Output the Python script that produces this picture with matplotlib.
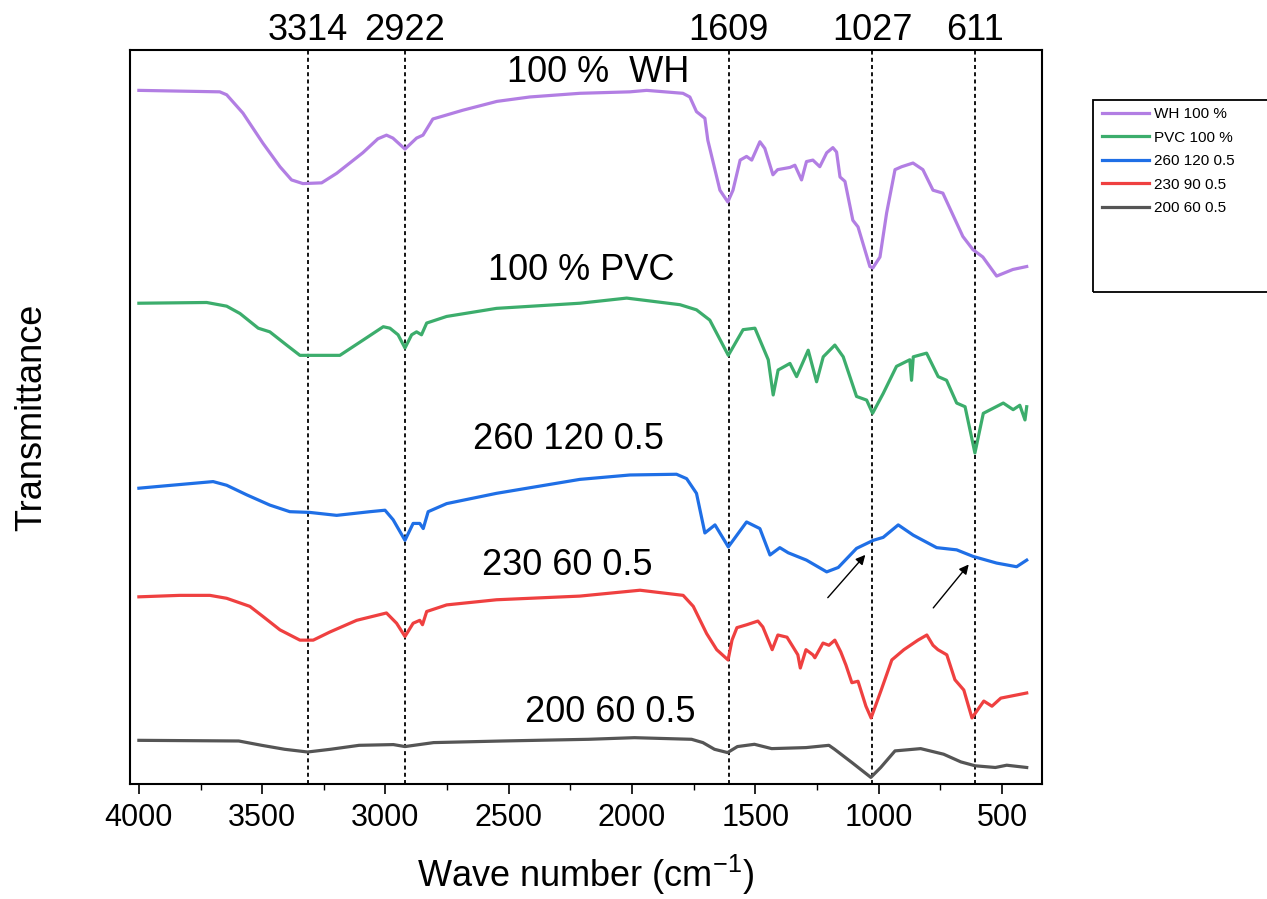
import matplotlib
matplotlib.use('Agg')
import matplotlib.pyplot as plt
from matplotlib.patches import Rectangle
from matplotlib.ticker import MultipleLocator

plt.rcParams['mathtext.fontset'] = 'custom'
plt.rcParams['mathtext.rm'] = 'Liberation Sans'
plt.rcParams['mathtext.it'] = 'Liberation Sans'

# FTIR spectra, transmittance in arbitrary units (curves stacked)
wh_x = [4000, 3672, 3644, 3578, 3497, 3428, 3381, 3335, 3259, 3198, 3092, 3031, 2996, 2970,
        2921, 2874, 2848, 2808, 2767, 2686, 2548, 2415, 2212, 2009, 1941, 1794, 1766, 1739,
        1705, 1693, 1644, 1612, 1591, 1562, 1536, 1515, 1482, 1462, 1429, 1410, 1360, 1340,
        1313, 1293, 1267, 1239, 1211, 1186, 1171, 1157, 1137, 1105, 1084, 1036, 1024, 995,
        968, 934, 907, 861, 821, 780, 740, 659, 618, 578, 522, 456, 400]
wh_y = [94.5, 94.3, 93.9, 91.4, 87.3, 84.1, 82.3, 81.8, 81.9, 83.2, 86.0, 87.9, 88.4, 88.0,
        86.5, 88.0, 88.4, 90.6, 91.0, 91.8, 93.0, 93.6, 94.1, 94.3, 94.5, 94.1, 93.6, 91.6,
        90.7, 87.7, 80.9, 79.3, 80.9, 85.0, 85.5, 85.0, 87.5, 86.6, 83.0, 83.7, 84.0, 84.3,
        82.3, 84.8, 85.0, 84.1, 86.0, 86.7, 86.1, 82.7, 82.1, 76.8, 75.9, 70.5, 70.3, 71.8,
        77.8, 83.7, 84.1, 84.6, 83.7, 80.9, 80.5, 74.6, 72.8, 71.8, 69.2, 70.1, 70.5]

pvc_x = [4000, 3725, 3644, 3590, 3516, 3469, 3401, 3347, 3307, 3185, 3090, 3009, 2982, 2949,
         2921, 2894, 2874, 2854, 2833, 2752, 2550, 2212, 2022, 1806, 1739, 1685, 1610, 1550,
         1502, 1448, 1428, 1408, 1360, 1333, 1286, 1252, 1225, 1178, 1144, 1090, 1049, 1025,
         982, 928, 874, 867, 860, 806, 759, 725, 684, 650, 610, 576, 495, 455, 428, 407, 400]
pvc_y = [65.5, 65.6, 65.1, 64.1, 62.1, 61.6, 59.8, 58.4, 58.4, 58.4, 60.5, 62.3, 62.1, 61.2,
         59.4, 61.2, 61.6, 61.2, 62.8, 63.7, 64.8, 65.5, 66.2, 65.3, 64.6, 63.2, 58.4, 61.9,
         62.1, 57.8, 53.0, 56.4, 57.3, 55.5, 59.1, 54.8, 58.2, 59.8, 58.2, 52.8, 52.3, 50.5,
         53.2, 56.9, 57.8, 55.0, 58.2, 58.7, 55.5, 55.0, 51.9, 51.4, 45.1, 50.5, 51.9, 51.0,
         51.6, 49.6, 51.4]

s260_x = [4000, 3901, 3699, 3644, 3563, 3469, 3388, 3307, 3198, 3063, 3002, 2969, 2921, 2888,
          2861, 2847, 2827, 2752, 2550, 2212, 2009, 1820, 1779, 1739, 1705, 1664, 1610, 1536,
          1482, 1441, 1401, 1367, 1293, 1211, 1164, 1090, 1022, 982, 921, 860, 765, 684, 617,
          522, 441, 400]
s260_y = [40.3, 40.6, 41.2, 40.7, 39.4, 38.0, 37.1, 37.0, 36.6, 37.1, 37.3, 36.0, 33.2, 35.5,
          35.5, 34.8, 37.1, 38.2, 39.6, 41.5, 42.1, 42.2, 41.6, 39.6, 34.2, 35.3, 32.3, 35.7,
          34.8, 31.2, 32.2, 31.5, 30.5, 28.9, 29.5, 32.1, 33.2, 33.6, 35.3, 33.9, 32.2, 31.9,
          31.0, 30.1, 29.6, 30.5]

s230_x = [4000, 3834, 3712, 3644, 3550, 3496, 3428, 3347, 3293, 3226, 3117, 2996, 2955, 2921,
          2888, 2861, 2850, 2833, 2752, 2550, 2212, 1968, 1793, 1752, 1698, 1657, 1611, 1595,
          1575, 1535, 1490, 1470, 1432, 1409, 1372, 1348, 1328, 1318, 1295, 1267, 1259, 1226,
          1202, 1178, 1154, 1133, 1109, 1084, 1052, 1031, 990, 947, 898, 841, 805, 780, 760,
          724, 691, 655, 622, 574, 541, 505, 460, 400]
s230_y = [25.5, 25.7, 25.7, 25.3, 24.2, 22.8, 21.0, 19.6, 19.6, 20.7, 22.3, 23.3, 21.9, 20.1,
          21.9, 22.3, 21.7, 23.5, 24.4, 25.1, 25.6, 26.4, 25.7, 24.2, 20.5, 18.3, 16.9, 19.6,
          21.3, 21.7, 22.2, 21.4, 18.3, 20.3, 20.0, 18.7, 17.6, 15.8, 18.3, 17.6, 17.2, 19.2,
          18.9, 19.6, 18.0, 16.2, 13.8, 14.0, 10.6, 9.0, 12.8, 16.9, 18.3, 19.6, 20.3, 18.9,
          18.3, 17.6, 14.2, 12.8, 9.0, 11.3, 10.6, 11.7, 12.0, 12.4]

s200_x = [4000, 3595, 3502, 3409, 3316, 3223, 3107, 2968, 2921, 2805, 2526, 2177, 1991, 1759,
          1713, 1666, 1613, 1573, 1504, 1434, 1295, 1202, 1179, 1109, 1032, 992, 934, 830, 737,
          667, 609, 527, 481, 400]
s200_y = [5.95, 5.86, 5.27, 4.73, 4.36, 4.73, 5.27, 5.37, 5.10, 5.64, 5.86, 6.09, 6.31, 6.09,
          5.64, 4.73, 4.28, 5.10, 5.41, 4.82, 4.96, 5.27, 4.73, 2.93, 0.90, 2.25, 4.51, 4.82,
          4.06, 3.01, 2.48, 2.25, 2.56, 2.25]

legend_labels = ['WH 100 %', 'PVC 100 %', '260 120 0.5', '230 90 0.5', '200 60 0.5']
curve_labels = ['100 %  WH', '100 % PVC', '260 120 0.5', '230 60 0.5', '200 60 0.5']
label_pos = [(2139, 97.0), (2208, 70.0), (2260, 46.9), (2264, 29.8), (2090, 9.8)]
colors = ['#b27ee3', '#3cad6c', '#1f6fe6', '#ef4040', '#555555']

peaks = [3314, 2922, 1609, 1027, 611]
# arrows (tail, head)
arrows = [((1214, 25.1), (1047, 31.5)), ((786, 23.7), (628, 30.2))]

sans = ['Liberation Sans', 'DejaVu Sans']
narrow = ['Liberation Sans Narrow', 'Liberation Sans', 'DejaVu Sans']

fig = plt.figure(figsize=(12.67, 8.99), dpi=100)
ax = fig.add_axes([130/1267, 1-784/899, (1042-130)/1267, (784-50)/899])

xs = [wh_x, pvc_x, s260_x, s230_x, s200_x]
ys = [wh_y, pvc_y, s260_y, s230_y, s200_y]
for x, y, c, lab in zip(xs, ys, colors, legend_labels):
    ax.plot(x, y, color=c, lw=2.3, label=lab, solid_joinstyle='round')

for p in peaks:
    ax.axvline(p, color='black', lw=1.3, ls=(0, (2.2, 1.8)), zorder=0)
    ax.text(p, 1.027, str(p), transform=ax.get_xaxis_transform(), ha='center', va='center',
            fontsize=26, family=sans)

for lab, (px, py) in zip(curve_labels, label_pos):
    ax.text(px, py, lab, ha='center', va='center', fontsize=26, family=sans)

for tail, head in arrows:
    ax.annotate('', xy=head, xytext=tail,
                arrowprops=dict(arrowstyle='-|>', color='black', lw=1.0, mutation_scale=14))

ax.set_xlim(4036, 338)
ax.set_ylim(0, 100)
ax.xaxis.set_major_locator(MultipleLocator(500))
ax.xaxis.set_minor_locator(MultipleLocator(250))
ax.set_yticks([])
ax.tick_params(axis='x', which='major', direction='out', length=7, width=1.2, pad=7)
ax.tick_params(axis='x', which='minor', direction='out', length=4, width=1.0)
for lb in ax.get_xticklabels():
    lb.set_family(narrow)
    lb.set_fontsize(22)
for sp in ax.spines.values():
    sp.set_linewidth(1.5)

ax.set_xlabel('Wave number (cm$^{\\mathrm{-1}}$)', fontsize=26, family=narrow, labelpad=14)
ax.set_ylabel('Transmittance', fontsize=26, family=sans, labelpad=58)

# legend with a tall frame outside the axes
fig.add_artist(Rectangle((1093/1267, 1-292/899), 0.2, 192/899, transform=fig.transFigure,
                         fill=False, ec='black', lw=1.3))
handles, labels = ax.get_legend_handles_labels()
fig.legend(handles, labels, loc='upper left', bbox_to_anchor=(1096/1267, 1-101/899),
           frameon=False, prop={'family': sans, 'size': 11}, handlelength=3.1,
           handletextpad=0.3, labelspacing=0.62, borderaxespad=0)

fig.savefig('out.png', dpi=100)
